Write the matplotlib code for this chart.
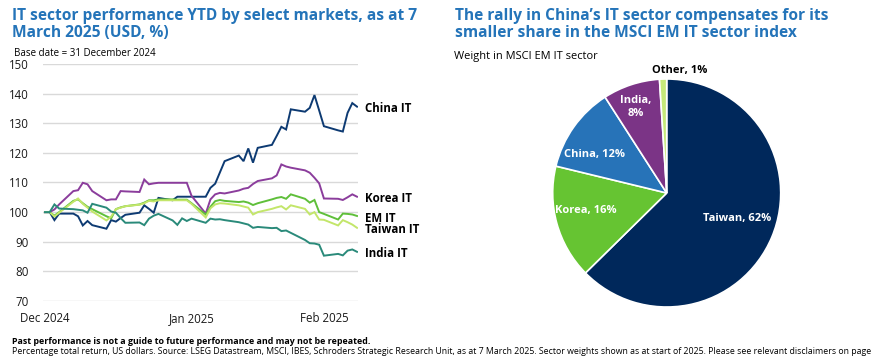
import matplotlib
matplotlib.use("Agg")
import matplotlib.pyplot as plt
import pandas as pd
import numpy as np

plt.rcParams['font.family'] = ['Open Sans', 'DejaVu Sans']

# ---------------- data ----------------
dates = pd.bdate_range("2024-12-31", "2025-03-07")

china_it = [100, 100, 97.3, 99.5, 99.5, 98.6, 95.5, 97.0, 95.6, 94.4, 97.3, 96.8, 98.0, 99.1,
            99.8, 102.3, 101.1, 99.8, 104.8, 104.0, 105.2, 105.2, 105.2, 105.2, 105.2, 108.2,
            109.6, 113.4, 117.2, 119.1, 117.2, 121.5, 116.7, 121.7, 122.7, 125.7, 128.8, 127.9,
            134.7, 133.9, 135.2, 139.5, 134.3, 129.0, 127.6, 127.2, 133.5, 136.8, 135.6]
korea_it = [100, 100, 100.9, 102.6, 107.1, 107.4, 109.9, 109.4, 107.1, 104.0, 104.3, 104.3,
            107.1, 107.0, 106.8, 111.0, 109.4, 109.7, 109.9, 109.9, 109.9, 109.9, 109.9, 105.5,
            99.5, 104.3, 106.0, 106.5, 106.3, 107.3, 107.9, 108.2, 109.5, 110.5, 111.4, 112.4,
            116.1, 115.4, 115.0, 114.1, 113.3, 111.6, 109.7, 104.6, 104.5, 104.1, 105.0, 106.0, 105.2]
em_it = [100, 100, 98.8, 100.0, 103.8, 104.3, 103.0, 101.8, 101.0, 98.6, 97.9, 101.0, 101.6,
         102.0, 102.6, 103.2, 104.0, 104.0, 104.3, 104.3, 104.2, 104.2, 104.2, 103.0, 99.2,
         101.8, 103.7, 104.1, 103.8, 103.4, 103.6, 103.2, 102.4, 103.0, 104.3, 104.8, 105.1,
         104.5, 106.0, 104.5, 103.2, 104.1, 100.0, 99.4, 97.5, 99.5, 99.4, 99.2, 98.7]
taiwan_it = [100, 100, 98.5, 99.8, 103.5, 104.6, 102.8, 101.5, 100.2, 97.2, 98.5, 101.0, 101.5,
             102.0, 102.5, 103.0, 103.8, 103.6, 104.0, 104.0, 104.0, 104.0, 104.0, 102.8, 98.2,
             101.3, 102.6, 103.0, 102.9, 102.3, 101.9, 101.5, 99.2, 100.0, 101.1, 101.6, 102.0,
             100.9, 102.3, 101.1, 99.2, 100.0, 97.5, 97.4, 95.5, 97.3, 96.6, 95.8, 94.7]
india_it = [100, 100, 102.6, 101.2, 101.0, 100.8, 100.6, 99.8, 102.8, 101.5, 100.2, 99.8, 98.0,
            96.4, 96.5, 95.6, 97.8, 98.8, 99.4, 97.2, 95.7, 97.9, 97.0, 97.8, 96.4, 97.8, 97.5,
            97.6, 97.3, 96.6, 96.2, 95.8, 94.7, 95.0, 94.6, 94.7, 93.6, 93.8, 93.0, 90.6, 89.5,
            89.4, 89.0, 85.3, 85.9, 85.4, 87.0, 87.4, 86.6]

series_names = ["China IT", "Korea IT", "EM IT", "Taiwan IT", "India IT"]
series_vals = [china_it, korea_it, em_it, taiwan_it, india_it]
series_colors = ["#0d3a72", "#8b3d9c", "#5fbf3a", "#c3e66a", "#2a8a7a"]

y_ticks = [70, 80, 90, 100, 110, 120, 130, 140, 150]
x_tick_dates = ["2024-12-31", "2025-01-31", "2025-02-28"]
x_tick_labels = ["Dec 2024", "Jan 2025", "Feb 2025"]

pie_labels = ["Taiwan", "Korea", "China", "India", "Other"]
pie_values = [62, 16, 12, 8, 1]
pie_colors = ["#00285b", "#66c432", "#2773b8", "#7b3486", "#c6e97a"]

title_color = "#2474b9"

# ---------------- figure ----------------
W, H = 883, 358
fig = plt.figure(figsize=(W / 100, H / 100), dpi=100)

def fx(px):
    return px / W

def fy(py):
    return 1 - py / H

# Left titles
fig.text(fx(12), fy(8), "IT sector performance YTD by select markets, as at 7\nMarch 2025 (USD, %)",
         color=title_color, fontsize=11.2, fontweight="bold", va="top", ha="left", linespacing=1.12)
fig.text(fx(14), fy(54), "Base date = 31 December 2024", fontsize=7.0, va="center", ha="left")

# Line chart axes
ax = fig.add_axes([fx(43), fy(301), fx(358) - fx(43), fy(64) - fy(301)])
for name, vals, col in zip(series_names, series_vals, series_colors):
    ax.plot(dates, vals, color=col, lw=1.4, solid_joinstyle="miter")

ax.set_ylim(70, 150)
ax.set_yticks(y_ticks)
x0 = pd.Timestamp("2024-12-31") - pd.Timedelta(hours=10)
x1 = pd.Timestamp("2025-03-07") + pd.Timedelta(hours=5)
ax.set_xlim(x0, x1)
ax.set_xticks([pd.Timestamp(d) for d in x_tick_dates])
ax.set_xticklabels(x_tick_labels)
ax.grid(axis="y", color="#d9d9d9", lw=1)
ax.set_axisbelow(True)
for s in ax.spines.values():
    s.set_visible(False)
ax.tick_params(axis="both", length=0, labelsize=8.3, colors="#1a1a1a")
ax.tick_params(axis="y", pad=10)
ax.tick_params(axis="x", pad=8)

for name, vals in zip(series_names, series_vals):
    ax.annotate(name, xy=(dates[-1], vals[-1]), xytext=(6, -1.5),
                textcoords="offset points", fontsize=8.3, fontweight="bold",
                va="center", ha="left", annotation_clip=False)

# Right titles
fig.text(fx(455), fy(8), "The rally in China\u2019s IT sector compensates for its\nsmaller share in the MSCI EM IT sector index",
         color=title_color, fontsize=11.2, fontweight="bold", va="top", ha="left", linespacing=1.12)
fig.text(fx(454), fy(57), "Weight in MSCI EM IT sector", fontsize=7.9, va="center", ha="left")

# Pie
cx, cy, r = 666.7, 193.0, 114
pax = fig.add_axes([fx(cx - r), fy(cy + r), fx(2 * r), (2 * r) / H])
wedges, _ = pax.pie(pie_values, colors=pie_colors, startangle=90, counterclock=False,
                    wedgeprops=dict(edgecolor="white", linewidth=1.2))
pax.set_xlim(-1, 1)
pax.set_ylim(-1, 1)
pax.set_aspect("equal")

def ppos(px, py):
    return ((px - cx) / r, (cy - py) / r)

pie_text = [
    ("Taiwan, 62%", ppos(737, 219), "white"),
    ("Korea, 16%", ppos(586, 210), "white"),
    ("China, 12%", ppos(594, 155), "white"),
    ("India,\n8%", ppos(636, 107), "white"),
    ("Other, 1%", ppos(680, 70), "black"),
]
for txt, (tx, ty), col in pie_text:
    pax.text(tx, ty, txt, color=col, fontsize=8.0, fontweight="bold", ha="center", va="center",
             linespacing=1.3, clip_on=False)

# Footer
fig.text(fx(12), fy(341), "Past performance is not a guide to future performance and may not be repeated.",
         fontsize=6.4, fontweight="bold", va="center", ha="left")
fig.text(fx(12), fy(352), "Percentage total return, US dollars. Source: LSEG Datastream, MSCI, IBES, Schroders Strategic Research Unit, as at 7 March 2025. Sector weights shown as at start of 2025. Please see relevant disclaimers on page",
         fontsize=6.3, va="center", ha="left")

fig.savefig("out.png", dpi=100)
